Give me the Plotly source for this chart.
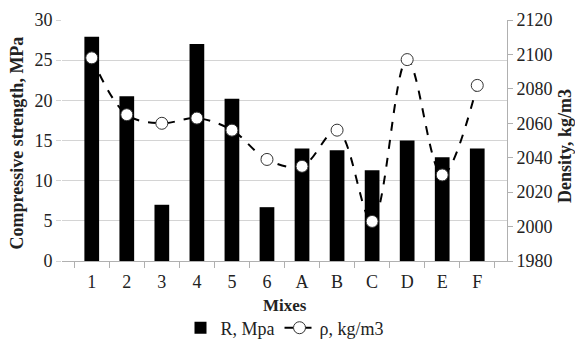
import plotly.graph_objects as go

mixes = ["1", "2", "3", "4", "5", "6", "A", "B", "C", "D", "E", "F"]
strength = [27.9, 20.5, 7.0, 27.0, 20.2, 6.7, 14.0, 13.8, 11.3, 15.0, 12.9, 14.0]
density = [2098, 2065, 2060, 2063, 2056, 2039, 2035, 2056, 2003, 2097, 2030, 2082]

x_title = "Mixes"
y_title = "Compressive strength, MPa"
y2_title = "Density, kg/m3"

FONT = "Liberation Serif, Times New Roman, serif"
TXT = "#222222"

fig = go.Figure()
fig.add_trace(go.Bar(
    x=mixes, y=strength, name="R, Mpa",
    marker=dict(color="black", line=dict(width=0)),
    yaxis="y",
))
fig.add_trace(go.Scatter(
    x=mixes, y=density, name="ρ, kg/m3", mode="lines+markers",
    line=dict(color="black", width=2, dash="dash", shape="spline", smoothing=1.0),
    marker=dict(symbol="circle", size=12, color="white", line=dict(color="#333333", width=1)),
    yaxis="y2",
))

# page body has an 8px default margin, so the figure is drawn 8px smaller
fig.update_layout(
    width=575, height=343,
    margin=dict(l=54, r=76, t=12, b=90, autoexpand=False),
    plot_bgcolor="white", paper_bgcolor="white",
    font=dict(family=FONT, color=TXT, size=18),
    bargap=0.58,
    showlegend=True,
    legend=dict(orientation="h", x=0.5, xanchor="center",
                yref="container", y=0.067, yanchor="middle",
                font=dict(family=FONT, size=18, color=TXT),
                itemwidth=30, tracegroupgap=0),
    xaxis=dict(
        type="category", showgrid=False, automargin=False,
        showline=True, linecolor="#b0b0b0", linewidth=1,
        ticks="outside", tickson="boundaries", ticklen=6, tickcolor="#b0b0b0",
        ticklabelstandoff=4,
        tickfont=dict(family=FONT, size=18, color=TXT),
    ),
    yaxis=dict(
        range=[0, 30], dtick=5, showgrid=True, gridcolor="#d4d4d4", gridwidth=1,
        showline=False, zeroline=False, automargin=False,
        ticks="outside", ticklen=5, tickcolor="#d4d4d4",
        tickfont=dict(family=FONT, size=18, color=TXT),
    ),
    yaxis2=dict(
        range=[1980, 2120], dtick=20, overlaying="y", side="right",
        showgrid=False, zeroline=False, automargin=False,
        showline=True, linecolor="#b0b0b0", linewidth=1,
        ticks="outside", ticklen=5, tickcolor="#b0b0b0",
        tickfont=dict(family=FONT, size=18, color=TXT),
    ),
    annotations=[
        dict(text=f"<b>{x_title}</b>", xref="paper", yref="paper", x=0.5, y=-0.183,
             xanchor="center", yanchor="middle", showarrow=False,
             font=dict(family=FONT, size=17, color=TXT)),
        dict(text=f"<b>{y_title}</b>", xref="paper", yref="paper", x=-0.101, y=0.488,
             xanchor="center", yanchor="middle", textangle=-90, showarrow=False,
             font=dict(family=FONT, size=18, color=TXT)),
        dict(text=f"<b>{y2_title}</b>", xref="paper", yref="paper", x=1.13, y=0.477,
             xanchor="center", yanchor="middle", textangle=-90, showarrow=False,
             font=dict(family=FONT, size=18, color=TXT)),
    ],
)

fig.write_html("out.html")
